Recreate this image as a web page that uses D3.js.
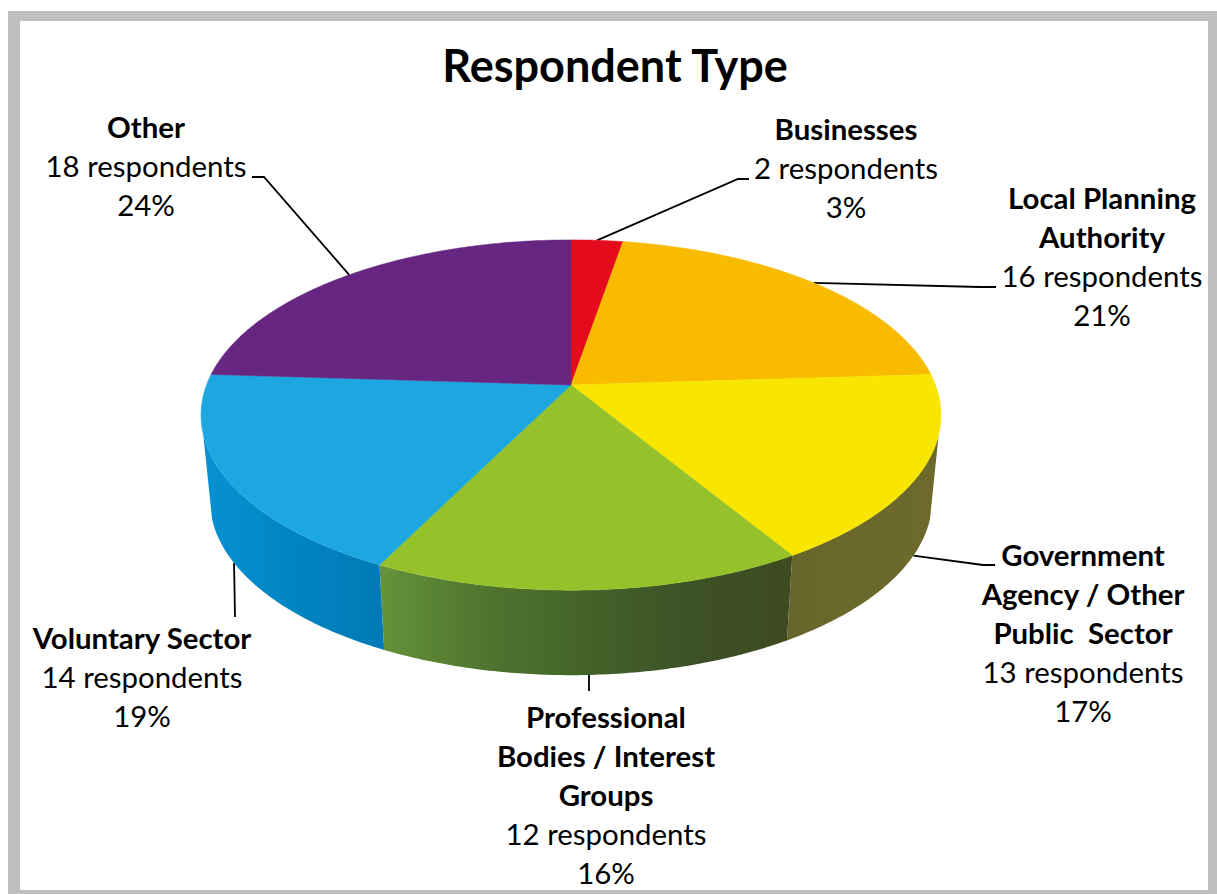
<!DOCTYPE html>
<html>
<head>
<meta charset="utf-8">
<title>Respondent Type</title>
<script src="https://cdn.jsdelivr.net/npm/d3@7"></script>
<style>
  html, body { margin: 0; padding: 0; background: #fff; }
  svg { display: block; }
  text { font-family: Lato, "Noto Sans", sans-serif; fill: #000; text-anchor: middle; white-space: pre; }
</style>
</head>
<body>
<svg id="chart" width="1217" height="894"></svg>
<script>
// Respondent counts per sector, clockwise from twelve o'clock
const categories = ["Businesses", "Local Planning Authority", "Government Agency / Other Public Sector",
                    "Professional Bodies / Interest Groups", "Voluntary Sector", "Other"];
const respondents = [2, 16, 13, 12, 14, 18];
const percentLabels = ["3%", "21%", "17%", "16%", "19%", "24%"];

// Text broken over lines as it is set in each callout
const nameLines = [
  ["Businesses"],
  ["Local Planning", "Authority"],
  ["Government", "Agency / Other", "Public  Sector"],
  ["Professional", "Bodies / Interest", "Groups"],
  ["Voluntary Sector"],
  ["Other"]
];

// Slice face colours and the shading stops of the side wall
const topColors = ["#e30b1c", "#f9bb00", "#f8e600", "#95c12b", "#1ca7e0", "#662681"];
const wallStops = [
  null,
  null,
  ["#6d6a2c", "#69662b"],
  ["#3f4a20", "#3c5226", "#436329", "#4f752f", "#65933a"],
  ["#007ab6", "#0085c1", "#0791d2"],
  null
];

const svg = d3.select("#chart");

// Frame
svg.append("rect").attr("x", 8).attr("y", 11).attr("width", 1209).attr("height", 883).attr("fill", "#bfbfbf");
svg.append("rect").attr("x", 20).attr("y", 21).attr("width", 1188).attr("height", 869).attr("fill", "#fff");

svg.append("text")
  .attr("x", 615).attr("y", 82)
  .attr("font-size", 45).attr("font-weight", 700)
  .text("Respondent Type");

// Perspective view of a flat disc: the apex sits above the ellipse centre
const apex = [571, 385];
const spreadX = 364.5, spreadY = 170, tilt = 0.1714;
const depth = 85, baseShrink = 0.976;

function rim(angle, t = 1) {
  const X = Math.sin(angle) * t, Y = -Math.cos(angle) * t;
  const w = 1 - tilt * Y;
  return [apex[0] + spreadX * X / w, apex[1] + spreadY * Y / w];
}
function baseRim(angle) {
  const [x, y] = rim(angle);
  return [apex[0] + (x - apex[0]) * baseShrink, y + depth];
}
function samples(a0, a1) {
  const n = Math.max(2, Math.ceil(Math.abs(a1 - a0) / 0.01));
  return d3.range(n + 1).map(i => a0 + (a1 - a0) * i / n);
}

const pie = d3.pie().sort(null).value(d => d)(respondents);
const line = d3.line();
const deg = Math.PI / 180;
const wallFrom = 106 * deg, wallTo = 254 * deg;

// Callouts sit behind the pie
const calloutX = [846, 1102, 1083, 606, 142, 146];
const calloutFirstBaseline = [140, 209, 566, 728, 649, 138];
const elbows = [
  [[738, 179], [749, 179]],
  [[980, 287], [996, 287]],
  [[983, 565], [995, 565]],
  [[589, 691]],
  [[235, 617]],
  [[264, 177], [252, 177]]
];
const onBase = [false, false, true, true, true, false];

pie.forEach((p, i) => {
  const mid = (p.startAngle + p.endAngle) / 2;
  const from = onBase[i] ? baseRim(mid) : rim(mid);
  svg.append("path")
    .attr("d", line([from, ...elbows[i]]))
    .attr("fill", "none").attr("stroke", "#000").attr("stroke-width", 1.8);
});

// Side walls along the front of the disc
const defs = svg.append("defs");
pie.forEach((p, i) => {
  const a0 = Math.max(p.startAngle, wallFrom), a1 = Math.min(p.endAngle, wallTo);
  if (a1 <= a0 || !wallStops[i]) return;
  const grad = defs.append("linearGradient").attr("id", "wall" + i)
    .attr("x1", 1).attr("x2", 0).attr("y1", 0).attr("y2", 0);
  wallStops[i].forEach((c, k, all) => {
    grad.append("stop").attr("offset", k / (all.length - 1)).attr("stop-color", c);
  });
  const upper = samples(a0, a1).map(a => rim(a));
  const lower = samples(a1, a0).map(a => baseRim(a));
  svg.append("path")
    .attr("d", line([...upper, ...lower]) + "Z")
    .attr("fill", `url(#wall${i})`);
});

// Top faces
pie.forEach((p, i) => {
  svg.append("path")
    .attr("d", line([apex, ...samples(p.startAngle, p.endAngle).map(a => rim(a))]) + "Z")
    .attr("fill", topColors[i])
    .attr("stroke", topColors[i]).attr("stroke-width", 0.5);
});

// Callout text: bold name, then count, then share
pie.forEach((p, i) => {
  const rows = [
    ...nameLines[i].map(t => ({ t, bold: true })),
    { t: `${respondents[i]} respondents`, bold: false },
    { t: percentLabels[i], bold: false }
  ];
  rows.forEach((r, k) => {
    svg.append("text")
      .attr("x", calloutX[i])
      .attr("y", calloutFirstBaseline[i] + k * 39.1)
      .attr("font-size", 29.4)
      .attr("font-weight", r.bold ? 700 : 400)
      .text(r.t);
  });
});
</script>
</body>
</html>
